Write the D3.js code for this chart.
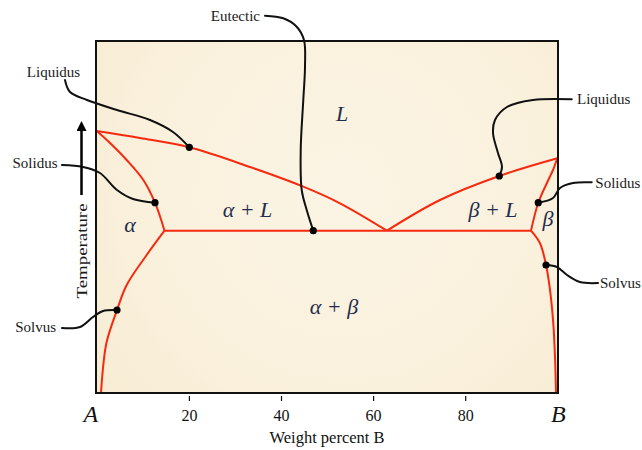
<!DOCTYPE html>
<html>
<head>
<meta charset="utf-8">
<script src="https://cdn.jsdelivr.net/npm/d3@7"></script>
<style>
  html, body { margin: 0; padding: 0; background: #fff; }
  svg { display: block; }
  text { font-family: "Liberation Serif", "Times New Roman", serif; }
</style>
</head>
<body>
<svg id="chart" width="642" height="450"></svg>
<script>
// ---------- data (weight percent B, temperature in relative units 0-100) ----------
const wtTicks = [20, 40, 60, 80];
const endLabels = ["A", "B"];
const xTitle = "Weight percent B";
const yTitle = "Temperature";

const eutecticT = 46.11;
const eutecticSpan = [14.7, 94.29];

const liquidusA = [[0, 74.43], [9.38, 72.44], [20.09, 69.80], [33.27, 64.20], [44.84, 58.61], [52.81, 53.89], [63, 46.11]];
const liquidusB = [[63, 46.11], [74.53, 54.83], [87.40, 61.65], [100, 66.68]];
const solidusA  = [[0, 74.43], [2.87, 71.02], [6.49, 66.19], [10.10, 60.51], [12.64, 54.06], [14.7, 46.11]];
const solvusA   = [[14.7, 46.11], [10.83, 39.20], [6.49, 30.68], [4.39, 23.58], [2.15, 14.57], [1.41, 7.95], [0.91, 0]];
const solidusB  = [[100, 66.68], [99.07, 63.35], [98.05, 60.51], [95.87, 54.06], [94.29, 46.11]];
const solvusB   = [[94.29, 46.11], [96.24, 42.53], [97.55, 36.36], [98.42, 29.26], [99.13, 19.80], [99.5, 10.31], [99.72, 0]];

const phaseNames = ["L", "α + L", "β + L", "α", "β", "α + β"];
const phasePos   = [[53.28, 77.27], [32.73, 49.86], [86.04, 50.0], [7.21, 45.88], [97.98, 47.4], [51.51, 22.44]];

const calloutNames   = ["Eutectic", "Liquidus", "Solidus", "Solvus", "Liquidus", "Solidus", "Solvus"];
const calloutAnchor  = ["end", "middle", "end", "end", "start", "start", "start"];
const calloutLabelAt = [[35.44, 105.7], [-9.40, 89.77], [-8.53, 63.78], [-8.86, 17.47], [104.28, 82.10], [108.26, 58.38], [109.25, 29.69]];
const calloutPaths = [
  [[36.53, 107.19], [40.50, 106.45], [43.41, 104.06], [44.99, 100.28], [45.21, 92.70], [44.84, 83.24], [44.28, 69.03], [44.50, 57.67], [45.58, 51.99], [47.01, 46.11]],
  [[-6.91, 88.92], [-5.82, 85.51], [-2.13, 83.24], [4.39, 80.40], [11.55, 77.56], [16.55, 74.15], [20.09, 69.80]],
  [[-7.56, 64.77], [-3.00, 64.20], [0.69, 62.50], [4.39, 57.67], [7.86, 55.11], [12.64, 54.06]],
  [[-7.56, 18.47], [-3.65, 18.75], [-0.83, 21.59], [1.35, 23.30], [4.39, 23.58]],
  [[103.13, 83.44], [94.72, 83.24], [89.07, 81.25], [86.47, 77.56], [86.04, 73.86], [87.12, 68.18], [87.99, 64.20], [87.40, 61.65]],
  [[107.47, 59.86], [103.41, 59.66], [100.59, 58.24], [99.07, 55.40], [95.87, 54.06]],
  [[108.84, 31.25], [104.93, 31.53], [102.11, 33.52], [99.93, 35.80], [97.55, 36.36]]
];

// ---------- layout ----------
const box = { left: 96, top: 41, right: 558, bottom: 393 };
const x = d3.scaleLinear().domain([0, 100]).range([96.8, 557.3]);
const y = d3.scaleLinear().domain([0, 100]).range([393, 41]);

const svg = d3.select("#chart");
const defs = svg.append("defs");
const grad = defs.append("radialGradient").attr("id", "bg")
  .attr("gradientUnits", "userSpaceOnUse")
  .attr("cx", 345).attr("cy", 190).attr("r", 330);
grad.append("stop").attr("offset", "0%").attr("stop-color", "#fbf4e4");
grad.append("stop").attr("offset", "60%").attr("stop-color", "#faf1dd");
grad.append("stop").attr("offset", "100%").attr("stop-color", "#f7ebd2");

defs.append("marker").attr("id", "arrowhead")
  .attr("viewBox", "0 0 10 10").attr("refX", 2).attr("refY", 5)
  .attr("markerWidth", 4).attr("markerHeight", 4).attr("orient", "auto")
  .append("path").attr("d", "M0,0 L10,5 L0,10 z").attr("fill", "#000");

// plot background
svg.append("rect")
  .attr("x", box.left).attr("y", box.top)
  .attr("width", box.right - box.left).attr("height", box.bottom - box.top)
  .attr("fill", "url(#bg)");

// phase boundaries
const red = "#f52a0f";
const line = d3.line().x(d => x(d[0])).y(d => y(d[1])).curve(d3.curveCatmullRom.alpha(0.5));
const g = svg.append("g");
[liquidusA, liquidusB, solidusA, solvusA, solidusB, solvusB].forEach(arr => {
  g.append("path").attr("d", line(arr)).attr("fill", "none")
    .attr("stroke", red).attr("stroke-width", 2).attr("stroke-linejoin", "round");
});
g.append("line")
  .attr("x1", x(eutecticSpan[0])).attr("x2", x(eutecticSpan[1]))
  .attr("y1", y(eutecticT)).attr("y2", y(eutecticT))
  .attr("stroke", red).attr("stroke-width", 2);

// frame
svg.append("rect")
  .attr("x", box.left).attr("y", box.top)
  .attr("width", box.right - box.left).attr("height", box.bottom - box.top)
  .attr("fill", "none").attr("stroke", "#111").attr("stroke-width", 2);

// phase labels
svg.append("g").selectAll("text").data(phaseNames).join("text")
  .attr("x", (d, i) => x(phasePos[i][0]))
  .attr("y", (d, i) => y(phasePos[i][1]))
  .attr("text-anchor", "middle")
  .attr("font-style", "italic")
  .attr("font-size", 22)
  .attr("fill", "#1f2c4c")
  .text(d => d);

// callouts
const cline = d3.line().x(d => x(d[0])).y(d => y(d[1])).curve(d3.curveCatmullRom.alpha(0.5));
const cg = svg.append("g");
calloutPaths.forEach((p, i) => {
  cg.append("path").attr("d", cline(p)).attr("fill", "none")
    .attr("stroke", "#111").attr("stroke-width", 2).attr("stroke-linecap", "round");
  const end = p[p.length - 1];
  cg.append("circle").attr("cx", x(end[0])).attr("cy", y(end[1])).attr("r", 3.6).attr("fill", "#000");
  cg.append("text")
    .attr("x", x(calloutLabelAt[i][0])).attr("y", y(calloutLabelAt[i][1]))
    .attr("text-anchor", calloutAnchor[i])
    .attr("font-size", 15).attr("fill", "#1a1a1a")
    .text(calloutNames[i]);
});

// x axis ticks
const axis = d3.axisBottom(x).tickValues(wtTicks).tickSize(5).tickPadding(8.5).tickFormat(d3.format("d"));
const ax = svg.append("g").attr("transform", `translate(0,${box.bottom + 3})`).call(axis);
ax.select(".domain").remove();
ax.selectAll(".tick line").attr("stroke", "#111").attr("stroke-width", 1.2);
ax.selectAll(".tick text").attr("font-family", "'Liberation Serif', 'Times New Roman', serif")
  .attr("font-size", 16).attr("fill", "#111");

// A / B end labels
svg.append("g").selectAll("text").data(endLabels).join("text")
  .attr("x", (d, i) => x(i * 100) + (i === 0 ? -6 : 1))
  .attr("y", box.bottom + 29)
  .attr("text-anchor", "middle")
  .attr("font-style", "italic")
  .attr("font-size", 24)
  .attr("fill", "#111")
  .text(d => d);

// axis title
svg.append("text")
  .attr("x", (box.left + box.right) / 2).attr("y", box.bottom + 50)
  .attr("text-anchor", "middle").attr("font-size", 16.5).attr("fill", "#111")
  .text(xTitle);

// temperature label and arrow
svg.append("text")
  .attr("transform", `translate(86.5,251) rotate(-90)`)
  .attr("text-anchor", "middle").attr("font-size", 15.5)
  .attr("textLength", 95).attr("lengthAdjust", "spacingAndGlyphs")
  .attr("fill", "#1a1a1a")
  .text(yTitle);
svg.append("line")
  .attr("x1", 81.5).attr("x2", 81.5).attr("y1", 195).attr("y2", 129)
  .attr("stroke", "#000").attr("stroke-width", 2.5)
  .attr("marker-end", "url(#arrowhead)");
</script>
</body>
</html>
